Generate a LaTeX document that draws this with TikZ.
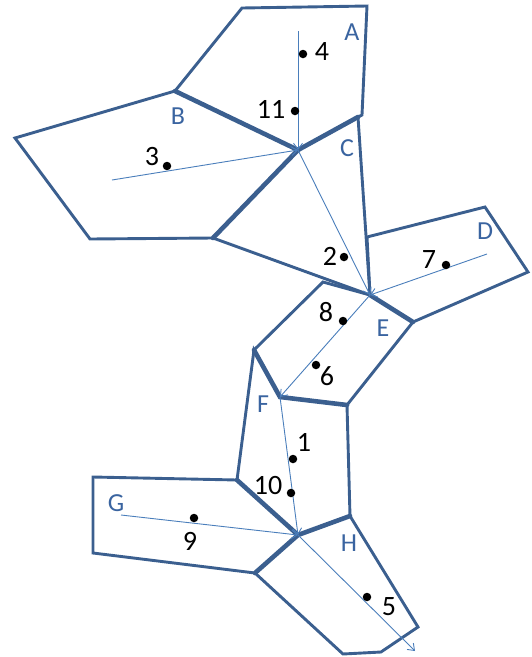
\documentclass[tikz,border=0pt]{standalone}
\usepackage{fontspec}
\setmainfont{Carlito}
\usetikzlibrary{arrows.meta}
\definecolor{edgeblue}{HTML}{3B5F8F}
\definecolor{flowblue}{HTML}{4A7EBB}
\definecolor{lettblue}{HTML}{3A64A0}
\tikzset{
  cell/.style={draw=edgeblue, line width=2.9pt, line join=miter},
  shared/.style={draw=edgeblue, line width=4.6pt, line cap=round},
  flow/.style={draw=flowblue, line width=0.9pt, -{Straight Barb[length=6pt,width=9pt]}},
  pt/.style={circle, fill=black, inner sep=0pt, minimum size=8.5pt},
  num/.style={font=\fontsize{28}{32}\selectfont, text=black, inner sep=0pt},
  lett/.style={font=\fontsize{26}{30}\selectfont, text=lettblue, inner sep=0pt}
}
\begin{document}
\begin{tikzpicture}[x=1pt,y=-1pt]
\useasboundingbox (0,0) rectangle (531,657);
% vertices
\coordinate (a1) at (242,8);
\coordinate (a2) at (367,6);
\coordinate (a3) at (362,115);
\coordinate (c1) at (358,117);
\coordinate (j1) at (298,150);
\coordinate (b1) at (175,91);
\coordinate (b2) at (15,138);
\coordinate (b3) at (90,239);
\coordinate (b4) at (213,238);
\coordinate (j2) at (370,295);
\coordinate (d1) at (367,237);
\coordinate (d2) at (485,207);
\coordinate (d3) at (528,272);
\coordinate (d4) at (413,322);
\coordinate (e1) at (323,282);
\coordinate (e2) at (347,405);
\coordinate (j3) at (280,397);
\coordinate (e3) at (254,350);
\coordinate (f1) at (350,516);
\coordinate (j4) at (298,535);
\coordinate (f2) at (237,480);
\coordinate (g1) at (93,477);
\coordinate (g2) at (93,553);
\coordinate (g3) at (255,573);
\coordinate (h1) at (418,627);
\coordinate (h2) at (381,652);
\coordinate (h3) at (343,654);
% polygons
\draw[cell] (a1) -- (a2) -- (a3) -- (j1) -- (b1) -- cycle;
\draw[cell] (b1) -- (j1) -- (b4) -- (b3) -- (b2) -- cycle;
\draw[cell] (j1) -- (c1) -- (j2) -- (b4) -- cycle;
\draw[cell] (d1) -- (d2) -- (d3) -- (d4) -- (j2) -- cycle;
\draw[cell] (e1) -- (j2) -- (d4) -- (e2) -- (j3) -- (e3) -- cycle;
\draw[cell] (e3) -- (j3) -- (e2) -- (f1) -- (j4) -- (f2) -- cycle;
\draw[cell] (g1) -- (f2) -- (j4) -- (g3) -- (g2) -- cycle;
\draw[cell] (j4) -- (f1) -- (h1) -- (h2) -- (h3) -- (g3) -- cycle;
% shared edges
\draw[shared] (b1) -- (j1) -- (c1);
\draw[shared] (j1) -- (b4);
\draw[shared] (j2) -- (d4);
\draw[shared] (e3) -- (j3) -- (e2);
\draw[shared] (f2) -- (j4) -- (f1);
\draw[shared] (j4) -- (g3);
% flow start points
\coordinate (s4) at (298,31);
\coordinate (s3) at (112,180);
\coordinate (s7) at (487,254);
\coordinate (s9) at (121,515);
\coordinate (s5) at (415,651);
% flows
\draw[flow] (s4) -- (j1);
\draw[flow] (s3) -- (j1);
\draw[flow] (j1) -- (j2);
\draw[flow] (s7) -- (j2);
\draw[flow] (j2) -- (j3);
\draw[flow] (j3) -- (j4);
\draw[flow] (s9) -- (j4);
\draw[flow] (j4) -- (s5);
% dots
\node[pt] (p4) at (303,54) {};
\node[pt] (p11) at (295,111) {};
\node[pt] (p3) at (167,166) {};
\node[pt] (p2) at (344,257) {};
\node[pt] (p7) at (446,265) {};
\node[pt] (p8) at (343,321) {};
\node[pt] (p6) at (316,365) {};
\node[pt] (p1) at (293,459) {};
\node[pt] (p10) at (291,493) {};
\node[pt] (p9) at (194,518) {};
\node[pt] (p5) at (367,597) {};
% numbers
\node[num] (n4) at (322,52) {4};
\node[num] (n11) at (271,109) {11};
\node[num] (n3) at (152,157) {3};
\node[num] (n2) at (330,256) {2};
\node[num] (n7) at (429,260) {7};
\node[num] (n8) at (326,312) {8};
\node[num] (n6) at (327,376) {6};
\node[num] (n1) at (304,442) {1};
\node[num] (n10) at (268,486) {10};
\node[num] (n9) at (190,541) {9};
\node[num] (n5) at (389,607) {5};
% letters
\node[lett] (lA) at (352,32) {A};
\node[lett] (lB) at (178,116) {B};
\node[lett] (lC) at (347,148) {C};
\node[lett] (lD) at (485,231) {D};
\node[lett] (lE) at (383,328) {E};
\node[lett] (lF) at (263,404) {F};
\node[lett] (lG) at (116,503) {G};
\node[lett] (lH) at (349,543) {H};
\end{tikzpicture}
\end{document}
